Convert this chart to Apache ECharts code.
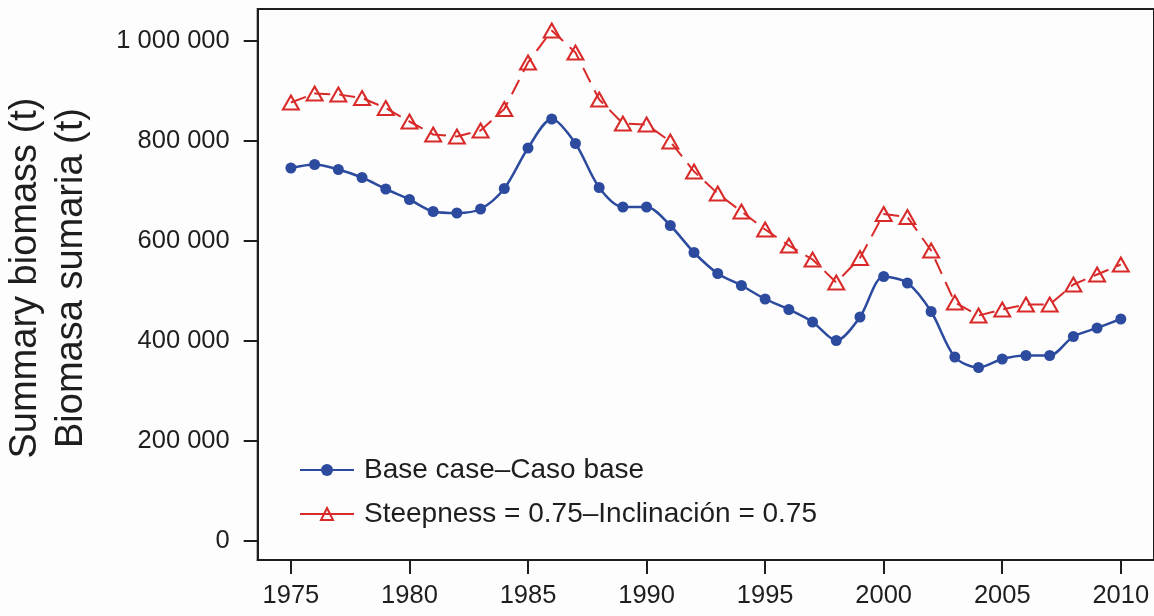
<!DOCTYPE html>
<html>
<head>
<meta charset="utf-8">
<script src="https://cdn.jsdelivr.net/npm/echarts@6/dist/echarts.min.js"></script>
<style>
  html, body { margin: 0; padding: 0; background: #fdfdfd; }
  #chart { width: 1154px; height: 616px; }
</style>
</head>
<body>
<div id="chart"></div>
<script>
// Years of the assessment
const years = [1975, 1976, 1977, 1978, 1979, 1980, 1981, 1982, 1983, 1984,
  1985, 1986, 1987, 1988, 1989, 1990, 1991, 1992, 1993, 1994,
  1995, 1996, 1997, 1998, 1999, 2000, 2001, 2002, 2003, 2004,
  2005, 2006, 2007, 2008, 2009, 2010];

// Summary biomass (t), base case
const baseCase = [746000, 753000, 743000, 727000, 704000, 683000, 659000, 656000, 664000, 705000,
  786000, 844000, 795000, 707000, 668000, 668000, 631000, 577000, 535000, 511000,
  484000, 463000, 438000, 401000, 448000, 529000, 516000, 459000, 368000, 347000,
  364000, 371000, 371000, 409000, 426000, 444000];

// Summary biomass (t), steepness = 0.75
const steepness075 = [877000, 895000, 893000, 886000, 866000, 839000, 813000, 809000, 821000, 864000,
  957000, 1021000, 977000, 883000, 835000, 833000, 799000, 739000, 695000, 659000,
  623000, 591000, 563000, 517000, 566000, 654000, 648000, 581000, 477000, 451000,
  463000, 473000, 473000, 513000, 533000, 553000];

// Tick positions
const xTicks = [1975, 1980, 1985, 1990, 1995, 2000, 2005, 2010];
const yTicks = [0, 200000, 400000, 600000, 800000, 1000000];

const seriesNames = ['Base case\u2013Caso base', 'Steepness = 0.75\u2013Inclinaci\u00f3n = 0.75'];
const yTitle = 'Summary biomass (t)\nBiomasa sumaria (t)';

const FONT = '"Liberation Sans", Arial, Helvetica, sans-serif';
const INK = '#1e1e1e';
const BLUE = '#2c4b9f';
const RED = '#d92a2a';

const pair = (vals) => years.map((y, i) => [y, vals[i]]);
const spaced = (v) => String(v).replace(/\B(?=(\d{3})+(?!\d))/g, ' ');

const chart = echarts.init(document.getElementById('chart'), null, { renderer: 'canvas' });

chart.setOption({
  backgroundColor: '#fdfdfd',
  animation: false,
  grid: {
    left: 257.7, top: 9, width: 900, height: 551,
    show: true, borderColor: INK, borderWidth: 2, backgroundColor: 'transparent'
  },
  xAxis: {
    type: 'value', min: 1973.6, max: 2011.4,
    splitLine: { show: false },
    axisLine: { show: true, onZero: false, lineStyle: { color: INK, width: 2 } },
    axisTick: { show: true, customValues: xTicks, length: 14, inside: false, lineStyle: { color: INK, width: 2 } },
    axisLabel: {
      customValues: xTicks, margin: 23, color: INK,
      fontFamily: FONT, fontSize: 25.5, formatter: (v) => String(v)
    }
  },
  yAxis: {
    type: 'value', min: -38000, max: 1064000,
    splitLine: { show: false },
    axisLine: { show: true, onZero: false, lineStyle: { color: INK, width: 2 } },
    axisTick: { show: true, customValues: yTicks, length: 14, inside: false, lineStyle: { color: INK, width: 2 } },
    axisLabel: {
      customValues: yTicks, margin: 28, color: INK,
      fontFamily: FONT, fontSize: 25.5, formatter: (v) => spaced(v)
    }
  },
  legend: {
    orient: 'vertical', left: 294, top: 450,
    itemWidth: 54, itemHeight: 15, itemGap: 14,
    textStyle: { fontFamily: FONT, fontSize: 28, color: INK, lineHeight: 30, padding: [0, 0, 0, 5] },
    data: [
      { name: seriesNames[0] },
      { name: seriesNames[1], lineStyle: { type: 'solid' } }
    ]
  },
  graphic: [{
    type: 'text', x: 49, y: 278, rotation: Math.PI / 2,
    style: {
      text: yTitle, align: 'center', verticalAlign: 'middle',
      font: '38px ' + FONT, lineHeight: 46, fill: INK
    }
  }],
  series: [
    {
      name: seriesNames[0], type: 'line', data: pair(baseCase),
      smooth: 0.3, symbol: 'circle', symbolSize: 11,
      lineStyle: { color: BLUE, width: 2.5 },
      itemStyle: { color: BLUE }, z: 3
    },
    {
      name: seriesNames[1], type: 'line', data: pair(steepness075),
      smooth: false, symbol: 'triangle', symbolSize: [16, 14],
      lineStyle: { color: RED, width: 2, type: [16, 9] },
      itemStyle: { color: 'rgba(0,0,0,0)', borderColor: RED, borderWidth: 2 }, z: 2
    }
  ]
});
</script>
</body>
</html>
